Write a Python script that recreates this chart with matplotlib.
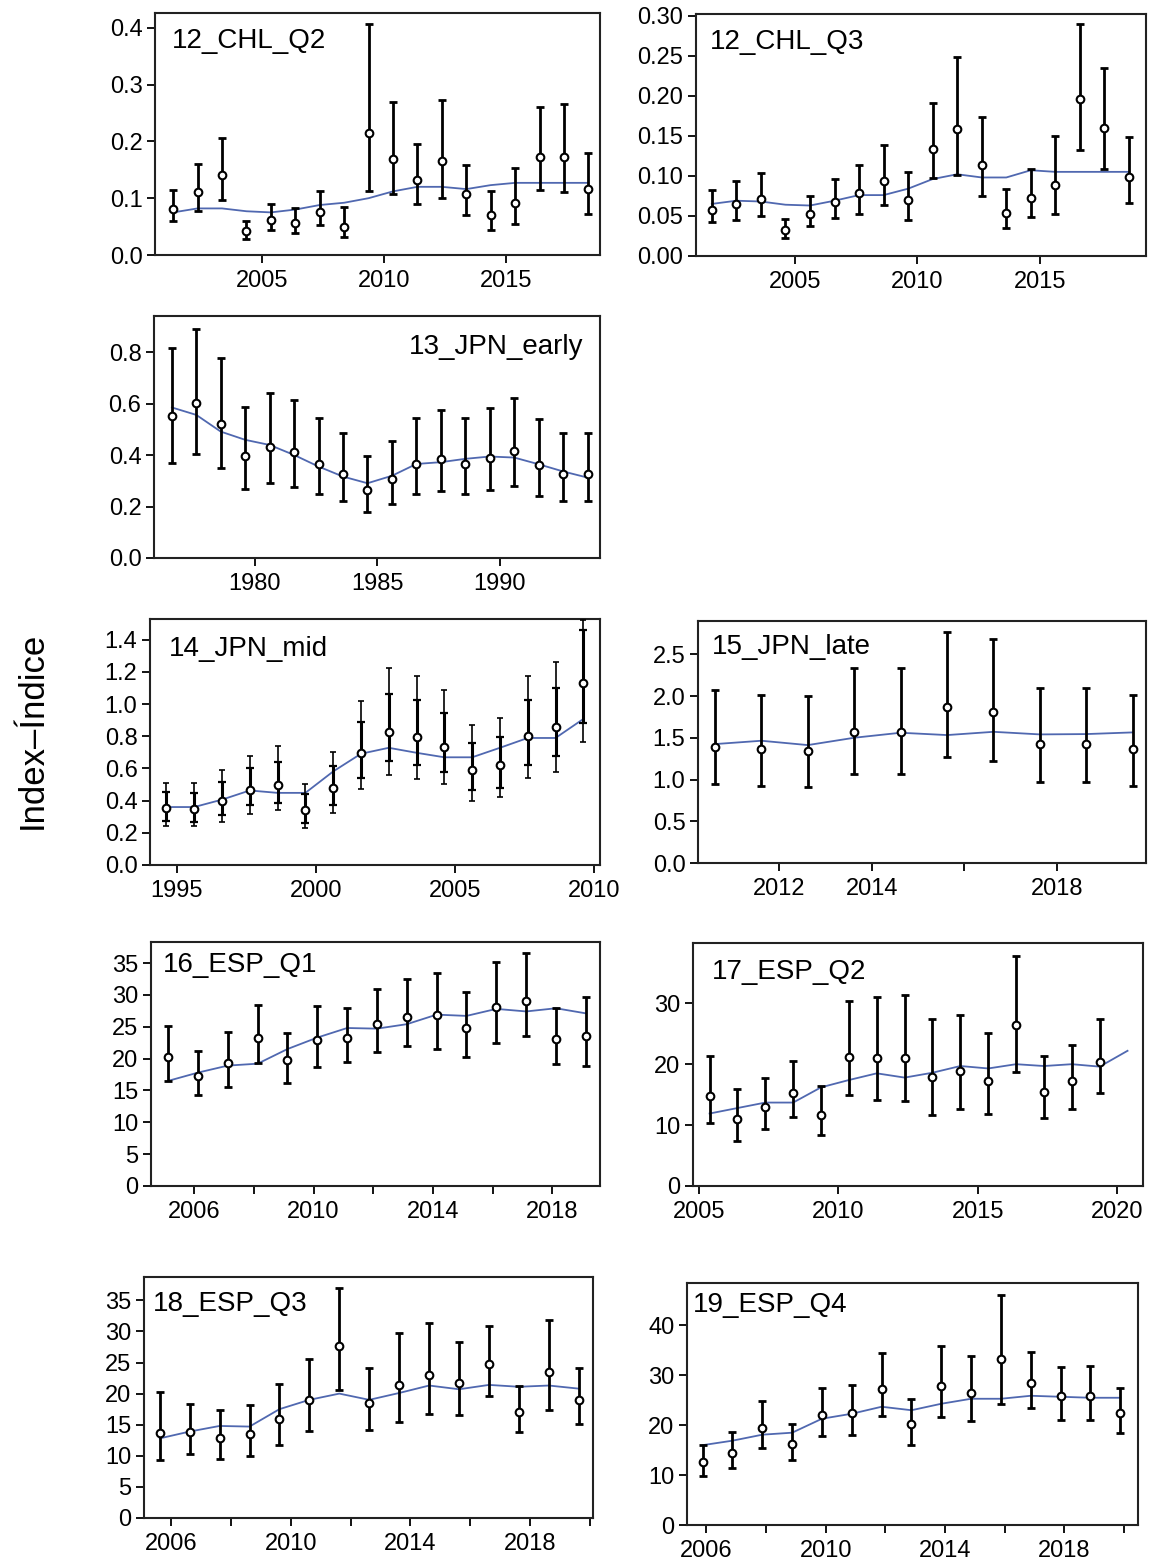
import matplotlib
matplotlib.use("Agg")
import matplotlib.pyplot as plt
import numpy as np

plt.rcParams['font.family'] = ['Liberation Sans', 'DejaVu Sans']

# ---- data ----
# 12_CHL_Q2
chl_q2_years = np.arange(2001, 2019)
chl_q2_idx = [0.081, 0.111, 0.141, 0.042, 0.062, 0.056, 0.076, 0.049, 0.214, 0.169, 0.132, 0.165, 0.107, 0.070, 0.091, 0.173, 0.172, 0.116]
chl_q2_lo = [0.059, 0.078, 0.097, 0.029, 0.044, 0.038, 0.052, 0.031, 0.113, 0.108, 0.090, 0.100, 0.070, 0.044, 0.054, 0.115, 0.111, 0.073]
chl_q2_hi = [0.115, 0.160, 0.206, 0.059, 0.089, 0.083, 0.113, 0.084, 0.406, 0.269, 0.196, 0.273, 0.159, 0.113, 0.154, 0.261, 0.265, 0.180]
chl_q2_fit = [0.075, 0.082, 0.082, 0.077, 0.075, 0.080, 0.088, 0.092, 0.100, 0.112, 0.120, 0.120, 0.116, 0.123, 0.127, 0.127, 0.127, 0.127]

# 12_CHL_Q3
chl_q3_years = np.arange(2001, 2019)
chl_q3_idx = [0.058, 0.065, 0.071, 0.032, 0.053, 0.068, 0.078, 0.094, 0.070, 0.134, 0.159, 0.114, 0.054, 0.073, 0.088, 0.196, 0.160, 0.098]
chl_q3_lo = [0.042, 0.045, 0.050, 0.023, 0.038, 0.047, 0.053, 0.064, 0.045, 0.097, 0.101, 0.075, 0.035, 0.049, 0.053, 0.132, 0.109, 0.066]
chl_q3_hi = [0.082, 0.093, 0.104, 0.046, 0.075, 0.096, 0.113, 0.139, 0.105, 0.191, 0.248, 0.173, 0.084, 0.109, 0.150, 0.290, 0.235, 0.148]
chl_q3_fit = [0.065, 0.069, 0.068, 0.064, 0.063, 0.069, 0.076, 0.076, 0.084, 0.096, 0.102, 0.098, 0.098, 0.107, 0.105, 0.105, 0.105, 0.105]

# 13_JPN_early
jpn_early_years = np.arange(1976, 1994)
jpn_early_idx = [0.554, 0.602, 0.522, 0.397, 0.434, 0.414, 0.365, 0.326, 0.265, 0.308, 0.366, 0.386, 0.366, 0.391, 0.417, 0.362, 0.328, 0.328]
jpn_early_lo = [0.369, 0.404, 0.352, 0.268, 0.291, 0.278, 0.249, 0.220, 0.179, 0.210, 0.249, 0.261, 0.249, 0.263, 0.281, 0.242, 0.220, 0.220]
jpn_early_hi = [0.819, 0.893, 0.777, 0.589, 0.641, 0.615, 0.544, 0.485, 0.397, 0.457, 0.544, 0.576, 0.546, 0.585, 0.621, 0.540, 0.488, 0.488]
jpn_early_fit = [0.586, 0.557, 0.492, 0.460, 0.440, 0.401, 0.356, 0.317, 0.291, 0.320, 0.366, 0.373, 0.386, 0.395, 0.391, 0.365, 0.337, 0.313]

# 14_JPN_mid (outer and inner intervals)
jpn_mid_years = np.arange(1994, 2010)
jpn_mid_idx = [0.354, 0.349, 0.400, 0.463, 0.497, 0.343, 0.476, 0.695, 0.827, 0.796, 0.733, 0.589, 0.621, 0.800, 0.855, 1.133]
jpn_mid_lo = [0.242, 0.242, 0.269, 0.316, 0.339, 0.227, 0.322, 0.469, 0.558, 0.537, 0.501, 0.400, 0.421, 0.539, 0.579, 0.764]
jpn_mid_hi = [0.512, 0.512, 0.589, 0.680, 0.737, 0.501, 0.701, 1.017, 1.221, 1.175, 1.086, 0.869, 0.912, 1.175, 1.263, 1.522]
jpn_mid_lo_in = [0.276, 0.269, 0.312, 0.375, 0.385, 0.263, 0.375, 0.539, 0.644, 0.621, 0.575, 0.463, 0.480, 0.623, 0.674, 0.884]
jpn_mid_hi_in = [0.453, 0.448, 0.518, 0.602, 0.642, 0.438, 0.613, 0.891, 1.065, 1.023, 0.947, 0.758, 0.796, 1.023, 1.097, 1.459]
jpn_mid_fit = [0.360, 0.360, 0.406, 0.463, 0.448, 0.448, 0.581, 0.691, 0.728, 0.697, 0.669, 0.669, 0.728, 0.789, 0.789, 0.907]

# 15_JPN_late
jpn_late_years = np.arange(2010, 2020)
jpn_late_idx = [1.393, 1.365, 1.346, 1.572, 1.572, 1.871, 1.811, 1.421, 1.421, 1.365]
jpn_late_lo = [0.943, 0.924, 0.916, 1.067, 1.067, 1.266, 1.226, 0.967, 0.967, 0.924]
jpn_late_hi = [2.070, 2.018, 2.002, 2.337, 2.337, 2.767, 2.687, 2.102, 2.102, 2.018]
jpn_late_fit = [1.425, 1.465, 1.413, 1.501, 1.561, 1.533, 1.572, 1.541, 1.545, 1.565]

# 16_ESP_Q1
esp_q1_years = np.arange(2005, 2020)
esp_q1_idx = [20.3, 17.3, 19.3, 23.3, 19.7, 22.9, 23.3, 25.4, 26.6, 26.8, 24.8, 28.1, 29.1, 23.0, 23.6]
esp_q1_lo = [16.5, 14.3, 15.5, 19.3, 16.2, 18.7, 19.4, 21.0, 21.9, 21.5, 20.3, 22.5, 23.5, 19.1, 18.8]
esp_q1_hi = [25.1, 21.2, 24.1, 28.4, 24.0, 28.2, 28.0, 30.9, 32.5, 33.4, 30.4, 35.1, 36.6, 27.9, 29.7]
esp_q1_fit = [16.5, 17.8, 18.9, 19.2, 21.5, 23.3, 24.8, 24.7, 25.4, 26.9, 26.7, 27.8, 27.4, 27.9, 27.1]

# 17_ESP_Q2 (fit runs one year past the last index point)
esp_q2_years = np.arange(2005, 2020)
esp_q2_idx = [14.8, 11.0, 13.0, 15.3, 11.7, 21.2, 21.0, 21.0, 17.9, 18.9, 17.2, 26.5, 15.4, 17.2, 20.4]
esp_q2_lo = [10.4, 7.4, 9.4, 11.4, 8.4, 14.9, 14.2, 14.0, 11.7, 12.6, 11.9, 18.7, 11.1, 12.7, 15.3]
esp_q2_hi = [21.3, 16.0, 17.7, 20.6, 16.5, 30.3, 31.1, 31.3, 27.4, 28.1, 25.1, 37.8, 21.3, 23.1, 27.4]
esp_q2_fit_years = np.arange(2005, 2021)
esp_q2_fit = [11.9, 12.8, 13.7, 13.7, 16.2, 17.4, 18.5, 17.8, 18.6, 19.7, 19.3, 20.0, 19.7, 20.0, 19.6, 22.2]

# 18_ESP_Q3
esp_q3_years = np.arange(2005, 2020)
esp_q3_idx = [13.7, 13.8, 12.8, 13.5, 15.9, 18.9, 27.7, 18.5, 21.4, 23.0, 21.7, 24.7, 17.1, 23.5, 19.0]
esp_q3_lo = [9.4, 10.3, 9.5, 9.9, 11.8, 14.0, 20.6, 14.1, 15.4, 16.8, 16.5, 19.6, 13.8, 17.3, 15.1]
esp_q3_hi = [20.2, 18.4, 17.3, 18.1, 21.5, 25.5, 37.0, 24.1, 29.7, 31.4, 28.3, 30.9, 21.2, 31.9, 24.1]
esp_q3_fit = [12.8, 13.9, 14.8, 14.7, 17.5, 19.0, 20.0, 19.0, 20.1, 21.3, 20.7, 21.4, 21.1, 21.3, 20.8]

# 19_ESP_Q4
esp_q4_years = np.arange(2005, 2020)
esp_q4_idx = [12.7, 14.5, 19.5, 16.2, 22.0, 22.5, 27.3, 20.2, 27.9, 26.5, 33.3, 28.5, 25.8, 25.9, 22.5]
esp_q4_lo = [9.8, 11.5, 15.5, 13.1, 17.9, 18.0, 21.8, 16.1, 21.7, 20.9, 24.3, 23.5, 21.0, 21.0, 18.5]
esp_q4_hi = [16.1, 18.7, 24.9, 20.3, 27.5, 28.1, 34.5, 25.3, 35.8, 33.8, 46.1, 34.7, 31.7, 31.9, 27.5]
esp_q4_fit = [16.0, 16.9, 18.1, 18.5, 21.3, 22.3, 23.7, 23.0, 24.3, 25.3, 25.3, 25.9, 25.7, 25.5, 25.5]

W, H = 1150, 1565
fig = plt.figure(figsize=(W / 100, H / 100), dpi=100)

# name, years, offset within the year, idx, lo, hi, fit years, fit,
# box in pixels (left, top, right, bottom), xlim, xticks, xlabels, yticks, yfmt, ylim, title offset (px), title align
panels = [
    ("12_CHL_Q2", chl_q2_years, 0.375, chl_q2_idx, chl_q2_lo, chl_q2_hi, chl_q2_years, chl_q2_fit,
     (155, 13, 600, 255), (2000.63, 2018.85), [2005, 2010, 2015], None,
     np.arange(0, 0.41, 0.1), "%.1f", (0, 0.426), (17, 28), "left"),
    ("12_CHL_Q3", chl_q3_years, 0.625, chl_q3_idx, chl_q3_lo, chl_q3_hi, chl_q3_years, chl_q3_fit,
     (696, 14, 1146, 256), (2000.98, 2019.32), [2005, 2010, 2015], None,
     np.arange(0, 0.301, 0.05), "%.2f", (0, 0.302), (14, 28), "left"),
    ("13_JPN_early", jpn_early_years, 0.6, jpn_early_idx, jpn_early_lo, jpn_early_hi, jpn_early_years, jpn_early_fit,
     (154, 316, 600, 558), (1975.87, 1994.11), [1980, 1985, 1990], None,
     np.arange(0, 0.81, 0.2), "%.1f", (0, 0.942), (17, 31), "right"),
    ("14_JPN_mid", jpn_mid_years, 0.62, jpn_mid_idx, jpn_mid_lo, jpn_mid_hi, jpn_mid_years, jpn_mid_fit,
     (150, 619, 600, 865), (1994.03, 2010.22), [1995, 2000, 2005, 2010], None,
     np.arange(0, 1.41, 0.2), "%.1f", (0, 1.528), (19, 30), "left"),
    ("15_JPN_late", jpn_late_years, 0.625, jpn_late_idx, jpn_late_lo, jpn_late_hi, jpn_late_years, jpn_late_fit,
     (698, 621, 1146, 863), (2010.26, 2019.91), [2012, 2014, 2016, 2018], ["2012", "2014", "", "2018"],
     np.arange(0, 2.51, 0.5), "%.1f", (0, 2.9), (14, 26), "left"),
    ("16_ESP_Q1", esp_q1_years, 0.125, esp_q1_idx, esp_q1_lo, esp_q1_hi, esp_q1_years, esp_q1_fit,
     (151, 942, 600, 1186), (2004.55, 2019.6), np.arange(2006, 2019, 2), ["2006", "", "2010", "", "2014", "", "2018"],
     np.arange(0, 36, 5), "%d", (0, 38.3), (12, 23), "left"),
    ("17_ESP_Q2", esp_q2_years, 0.375, esp_q2_idx, esp_q2_lo, esp_q2_hi, esp_q2_fit_years, esp_q2_fit,
     (693, 943, 1143, 1186), (2004.78, 2020.93), [2005, 2010, 2015, 2020], None,
     [0, 10, 20, 30], "%d", (0, 39.9), (19, 29), "left"),
    ("18_ESP_Q3", esp_q3_years, 0.625, esp_q3_idx, esp_q3_lo, esp_q3_hi, esp_q3_years, esp_q3_fit,
     (144, 1277, 593, 1518), (2005.1, 2020.1), np.arange(2006, 2021, 2), ["2006", "", "2010", "", "2014", "", "2018", ""],
     np.arange(0, 36, 5), "%d", (0, 38.75), (9, 27), "left"),
    ("19_ESP_Q4", esp_q4_years, 0.875, esp_q4_idx, esp_q4_lo, esp_q4_hi, esp_q4_years, esp_q4_fit,
     (687, 1283, 1138, 1525), (2005.35, 2020.47), np.arange(2006, 2021, 2), ["2006", "", "2010", "", "2014", "", "2018", ""],
     [0, 10, 20, 30, 40], "%d", (0, 48.5), (6, 22), "left"),
]

blue = "#5068b0"

for (name, years, off, idx, lo, hi, fyears, fit, box, xlim, xticks, xlabels,
     yticks, yfmt, ylim, toff, talign) in panels:
    l, t, r, b = box
    ax = fig.add_axes([l / W, 1 - b / H, (r - l) / W, (b - t) / H])
    x = np.asarray(years) + off
    idx = np.asarray(idx)
    ax.plot(np.asarray(fyears) + off, fit, color=blue, lw=1.3, zorder=2)
    if name == "14_JPN_mid":
        ax.errorbar(x, idx, yerr=[idx - np.asarray(jpn_mid_lo), np.asarray(jpn_mid_hi) - idx],
                    fmt="none", ecolor="black", elinewidth=1.2, capsize=2.5, capthick=1.2, zorder=3)
        ax.errorbar(x, idx, yerr=[idx - np.asarray(jpn_mid_lo_in), np.asarray(jpn_mid_hi_in) - idx],
                    fmt="none", ecolor="black", elinewidth=2.2, capsize=3, capthick=1.6, zorder=3)
    else:
        ax.errorbar(x, idx, yerr=[idx - np.asarray(lo), np.asarray(hi) - idx],
                    fmt="none", ecolor="black", elinewidth=2.0, capsize=2.8, capthick=2.0, zorder=3)
    ax.plot(x, idx, "o", ms=5.5, mfc="white", mec="black", mew=1.5, zorder=4)

    ax.set_xlim(*xlim)
    ax.set_ylim(*ylim)
    ax.set_xticks(xticks)
    if xlabels is not None:
        ax.set_xticklabels(xlabels)
    ax.set_yticks(yticks)
    ax.set_yticklabels([yfmt % v for v in yticks])
    ax.tick_params(axis="both", direction="out", length=6, width=1.3, labelsize=17, colors="black")
    ax.tick_params(axis="x", pad=5)
    ax.tick_params(axis="y", pad=3)
    for s in ax.spines.values():
        s.set_linewidth(1.5)
        s.set_color("#222222")

    if talign == "left":
        ax.annotate(name, xy=(0, 1), xycoords="axes fraction", xytext=(toff[0] * 0.72, -toff[1] * 0.72),
                    textcoords="offset points", ha="left", va="center", fontsize=20)
    else:
        ax.annotate(name, xy=(1, 1), xycoords="axes fraction", xytext=(-toff[0] * 0.72, -toff[1] * 0.72),
                    textcoords="offset points", ha="right", va="center", fontsize=20)

fig.text(32 / W, 1 - 730 / H, "Index\u2013\u00cdndice", rotation=90, ha="center", va="center", fontsize=25)

fig.savefig("out.png", dpi=100, facecolor="white")
